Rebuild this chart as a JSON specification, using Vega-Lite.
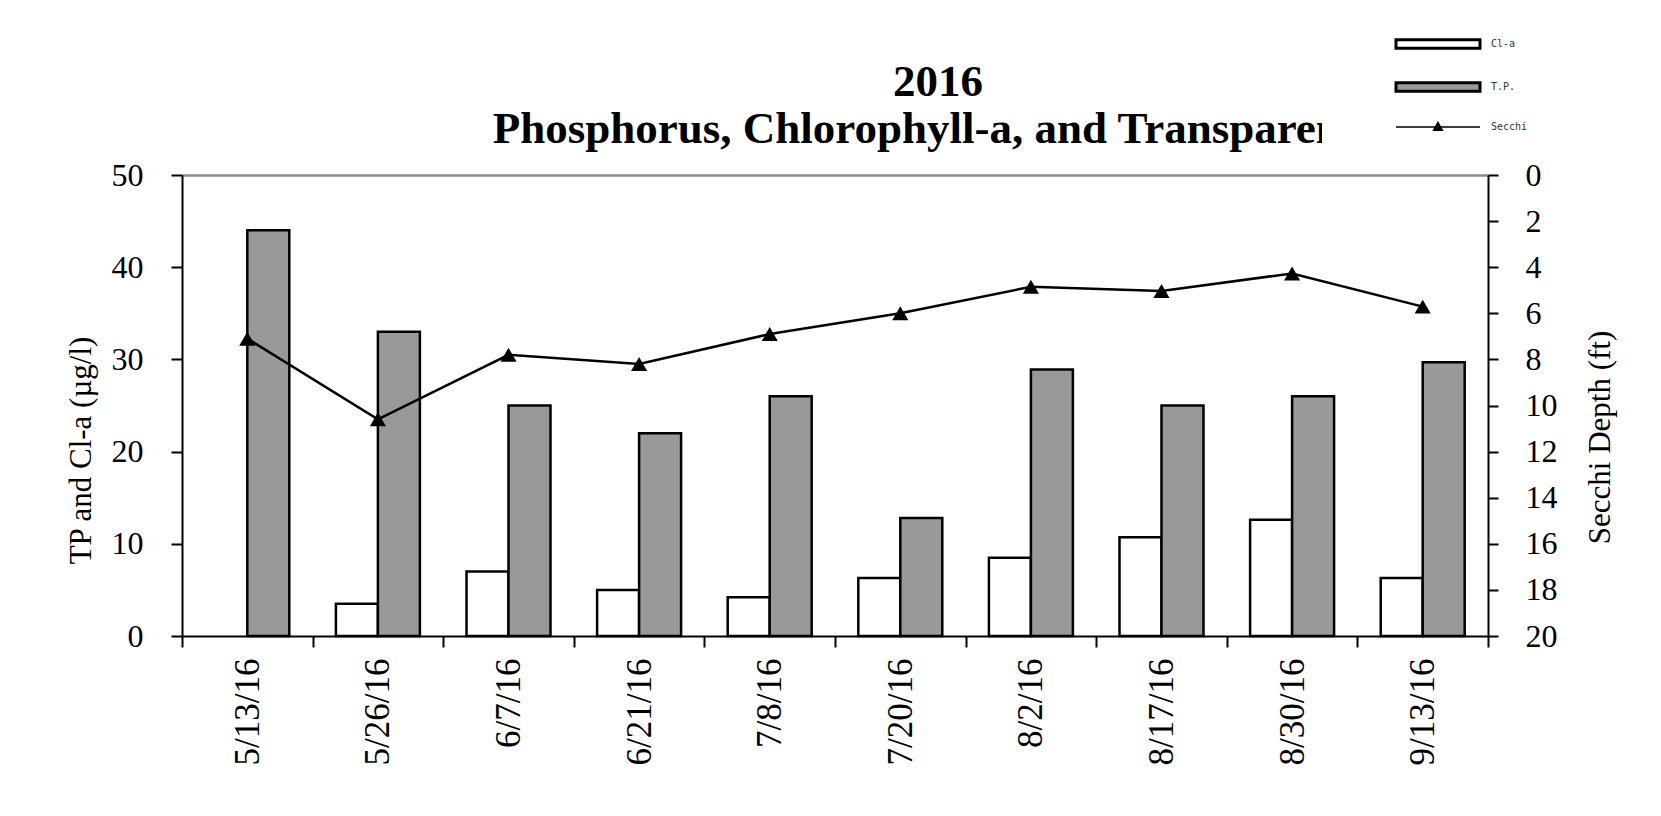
{
  "$schema": "https://vega.github.io/schema/vega-lite/v6.json",
  "width": 1306,
  "height": 461,
  "autosize": {"type": "none"},
  "padding": {"left": 182, "top": 175, "right": 173, "bottom": 180},
  "background": "white",
  "title": {
    "text": ["2016", "Phosphorus, Chlorophyll-a, and Transparency"],
    "font": "Liberation Serif",
    "fontSize": 45,
    "fontWeight": "bold",
    "color": "black",
    "anchor": "middle",
    "frame": "group",
    "dx": 103,
    "offset": -139,
    "lineHeight": 47,
    "zindex": 0
  },
  "datasets": {
    "wq": [
      {"date": "5/13/16", "series": "T.P.", "value": 44},
      {"date": "5/26/16", "series": "Cl-a", "value": 3.5},
      {"date": "5/26/16", "series": "T.P.", "value": 33},
      {"date": "6/7/16", "series": "Cl-a", "value": 7.0},
      {"date": "6/7/16", "series": "T.P.", "value": 25},
      {"date": "6/21/16", "series": "Cl-a", "value": 5.0},
      {"date": "6/21/16", "series": "T.P.", "value": 22},
      {"date": "7/8/16", "series": "Cl-a", "value": 4.2},
      {"date": "7/8/16", "series": "T.P.", "value": 26},
      {"date": "7/20/16", "series": "Cl-a", "value": 6.3},
      {"date": "7/20/16", "series": "T.P.", "value": 12.8},
      {"date": "8/2/16", "series": "Cl-a", "value": 8.5},
      {"date": "8/2/16", "series": "T.P.", "value": 28.9},
      {"date": "8/17/16", "series": "Cl-a", "value": 10.7},
      {"date": "8/17/16", "series": "T.P.", "value": 25},
      {"date": "8/30/16", "series": "Cl-a", "value": 12.6},
      {"date": "8/30/16", "series": "T.P.", "value": 26},
      {"date": "9/13/16", "series": "Cl-a", "value": 6.3},
      {"date": "9/13/16", "series": "T.P.", "value": 29.7}
    ],
    "secchi": [
      {"date": "5/13/16", "depth": 7.1},
      {"date": "5/26/16", "depth": 10.6},
      {"date": "6/7/16", "depth": 7.8},
      {"date": "6/21/16", "depth": 8.2},
      {"date": "7/8/16", "depth": 6.9},
      {"date": "7/20/16", "depth": 6.0},
      {"date": "8/2/16", "depth": 4.85},
      {"date": "8/17/16", "depth": 5.03},
      {"date": "8/30/16", "depth": 4.27},
      {"date": "9/13/16", "depth": 5.71}
    ]
  },
  "config": {
    "view": {"stroke": null},
    "axis": {
      "labelFont": "Liberation Serif",
      "labelFontSize": 32,
      "labelColor": "black",
      "titleFont": "Liberation Serif",
      "titleFontSize": 31,
      "titleFontWeight": "normal",
      "titleColor": "black",
      "domainColor": "black",
      "domainWidth": 2,
      "tickColor": "black",
      "tickWidth": 2
    }
  },
  "layer": [
    {
      "data": {"name": "wq"},
      "mark": {"type": "bar", "stroke": "black", "strokeWidth": 2.5},
      "encoding": {
        "x": {
          "field": "date",
          "type": "nominal",
          "scale": {
            "domain": ["5/13/16", "5/26/16", "6/7/16", "6/21/16", "7/8/16", "7/20/16", "8/2/16", "8/17/16", "8/30/16", "9/13/16"],
            "paddingInner": 0,
            "paddingOuter": 0
          },
          "axis": {
            "title": null,
            "labelAngle": 270,
            "labelFontSize": 35,
            "labelPadding": 11,
            "tickBand": "extent",
            "tickSize": 11,
            "encode": {"ticks": {"update": {"y": {"value": -10}}}}
          }
        },
        "xOffset": {
          "field": "series",
          "type": "nominal",
          "scale": {"domain": ["Cl-a", "T.P."], "paddingInner": 0, "paddingOuter": 0.555}
        },
        "y": {
          "field": "value",
          "type": "quantitative",
          "scale": {"domain": [0, 50], "nice": false},
          "axis": {
            "title": "TP and Cl-a (µg/l)",
            "values": [0, 10, 20, 30, 40, 50],
            "titleAngle": 270,
            "titleBaseline": "middle",
            "titleX": -101,
            "titleY": 275,
            "labelPadding": 28,
            "tickSize": 11,
            "grid": true,
            "gridColor": "#8c8c8c",
            "gridWidth": 2.5,
            "gridOpacity": {"condition": {"test": "datum.value === 50", "value": 1}, "value": 0},
            "encode": {"ticks": {"update": {"x": {"value": 11}}}}
          }
        },
        "fill": {
          "field": "series",
          "type": "nominal",
          "scale": {"domain": ["Cl-a", "T.P.", "Secchi"], "range": ["white", "#999999", "black"]},
          "legend": {
            "orient": "none",
            "legendX": 1140,
            "legendY": -162,
            "direction": "vertical",
            "title": "\u00a0",
            "titleOrient": "left",
            "titleFontSize": 10,
            "titlePadding": 85,
            "padding": 26,
            "fillColor": "white",
            "strokeColor": null,
            "zindex": 2,
            "symbolSize": 900,
            "rowPadding": 21,
            "labelOffset": 48,
            "labelFont": "DejaVu Sans Mono",
            "labelFontSize": 10,
            "labelColor": "#333333",
            "symbolStrokeColor": "black",
            "symbolStrokeWidth": 3,
            "encode": {
              "symbols": {
                "update": {
                  "shape": {"signal": "datum.value === 'Secchi' ? 'M-2.8,0H2.8M0,-0.32L0.3,0.22H-0.3Z' : 'M-2.8,-0.28H2.8V0.28H-2.8Z'"},
                  "strokeWidth": {"signal": "datum.value === 'Secchi' ? 1.3 : 3"},
                  "stroke": {"value": "black"},
                  "opacity": {"value": 1}
                }
              }
            }
          }
        }
      }
    },
    {
      "data": {"name": "secchi"},
      "layer": [
        {
          "mark": {"type": "line", "color": "black", "strokeWidth": 2.5},
          "encoding": {
            "x": {"field": "date", "type": "nominal"},
            "y": {
              "field": "depth",
              "type": "quantitative",
              "scale": {"domain": [0, 20], "reverse": true, "nice": false},
              "axis": {
                "orient": "right",
                "title": "Secchi Depth (ft)",
                "values": [0, 2, 4, 6, 8, 10, 12, 14, 16, 18, 20],
                "titleAngle": 270,
                "titleBaseline": "middle",
                "titleX": 112,
                "titleY": 262,
                "labelPadding": 27,
                "tickSize": 10,
                "encode": {"ticks": {"update": {"x": {"value": -12}}}}
              }
            }
          }
        },
        {
          "mark": {"type": "point", "shape": "triangle-up", "filled": true, "color": "black", "size": 260, "opacity": 1},
          "encoding": {
            "x": {"field": "date", "type": "nominal"},
            "y": {"field": "depth", "type": "quantitative"}
          }
        }
      ]
    }
  ],
  "resolve": {"scale": {"y": "independent"}, "axis": {"y": "independent"}}
}
